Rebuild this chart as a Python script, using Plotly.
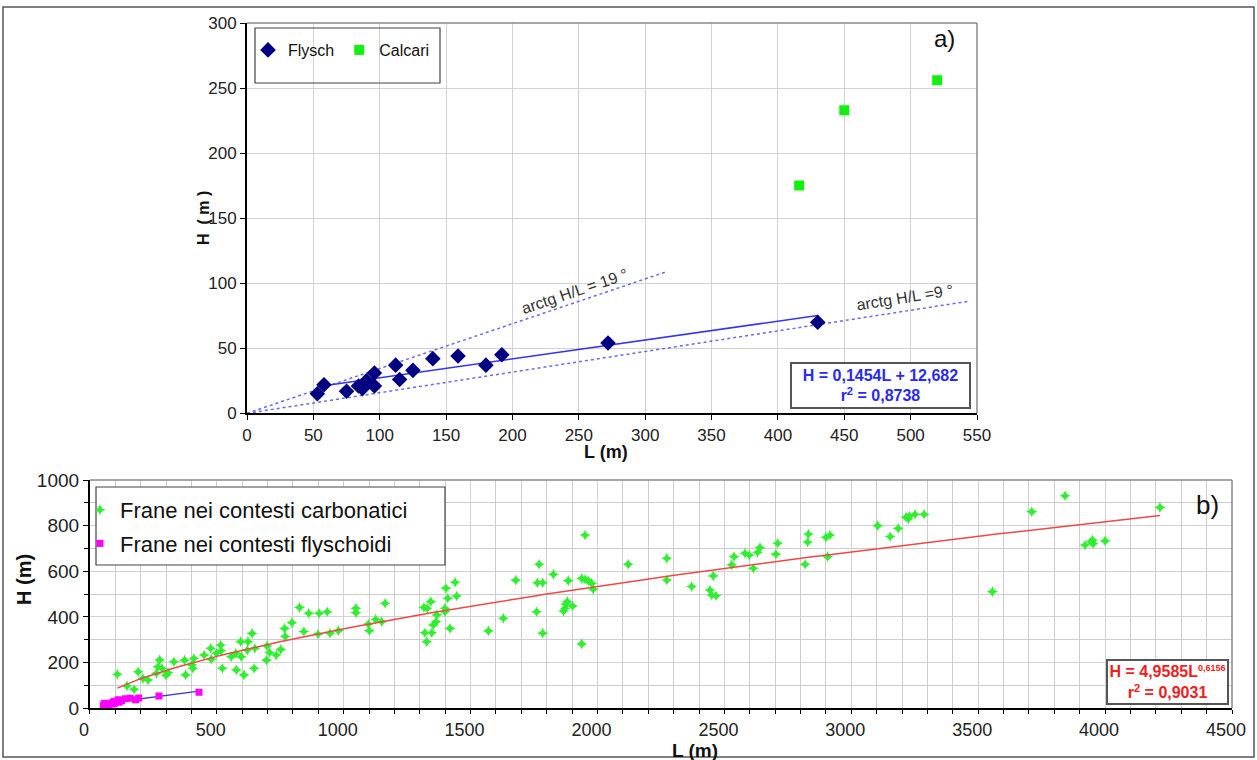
import numpy as np
import plotly.graph_objects as go

W, H = 1257, 760
FONT = "Liberation Sans, Arial, sans-serif"

# ---------------- Panel a) data ----------------
flysch_L = [53, 58, 75, 84, 87, 90, 96, 96, 112, 115, 125, 140, 159, 180, 192, 272, 430]
flysch_H = [15, 22, 17, 21, 19, 25, 31, 21, 37, 26, 33, 42, 44, 37, 45, 54, 70]
calcari_L = [416, 450, 520]
calcari_H = [175, 233, 256]
lin_fit = [0.1454, 12.682]          # slope, intercept
lin_fit_range = [58, 430]
slope_angles_deg = [19, 9]
slope_line_ends = [315, 545]

# ---------------- Panel b) data ----------------
carb_L = [108, 190, 174, 146, 209, 229, 275, 268, 262, 284, 308, 300, 331, 373, 377, 410, 406, 402,
          450, 476, 478, 498, 515, 517, 522, 557, 577, 575, 594, 596, 607, 623, 620, 639, 647, 650,
          698, 696, 708, 734, 752, 767, 770, 796, 843, 826, 862, 903, 899, 935,
          946, 979, 1048, 1048, 1097, 1101, 1126, 1150, 1163, 1316, 1329, 1343, 1320, 1327, 1347,
          1353, 1364, 1367, 1399, 1399, 1403, 1410, 1419, 1439, 1445, 1570, 1629, 1678, 1763, 1760,
          1770, 1784, 1784, 1826,
          1885, 1881, 1872, 1866, 1902, 1875, 1938, 1951, 1951, 1964, 1977, 1983, 1938, 2121, 2273,
          2273, 2371, 2443, 2450, 2467, 2456, 2529, 2538, 2581, 2598, 2614, 2631, 2640, 2703, 2710,
          2831, 2828, 2818, 2900, 2916, 2907, 3104, 3153, 3185, 3216, 3229, 3225, 3251, 3287, 3556,
          3711, 3842, 3921, 3951, 3953, 3945, 4000, 4216]
carb_H = [149, 160, 83, 98, 131, 124, 212, 182, 153, 175, 156, 145, 204, 211, 146, 219, 175, 190,
          233, 263, 215, 241, 277, 252, 175, 226, 168, 241, 292, 226, 146, 292, 255, 328, 175, 263,
          273, 211, 244, 233, 258, 350, 314, 375, 336, 442, 416, 416, 325, 423,
          329, 340, 438, 419, 369, 340, 390, 379, 460, 442, 438, 467, 331, 292, 331,
          365, 379, 409, 423, 438, 526, 482, 350, 552, 492, 339, 394, 561, 550, 423,
          631, 550, 329, 587,
          559, 467, 438, 426, 448, 456, 569, 565, 759, 558, 547, 521, 282, 631, 657,
          562, 533, 518, 496, 493, 580, 628, 664, 679, 671, 613, 683, 704, 675, 723,
          763, 728, 631, 749, 759, 664, 800, 752, 788, 837, 842, 830, 850, 850, 511,
          861, 931, 715, 737, 721, 730, 733, 880]
pow_fit = [4.9585, 0.6156]          # coefficient, exponent
pow_fit_range = [108, 4216]

x_ticks_a = list(range(0, 551, 50))
y_ticks_a = list(range(0, 301, 50))
x_ticks_b = list(range(0, 4501, 500))
y_ticks_b = list(range(0, 1001, 200))


def xp(px):
    return px / W


def yp(py):
    return 1 - py / H


fig = go.Figure()

# ---------------- Panel a) traces ----------------
for ang, end in zip(slope_angles_deg, slope_line_ends):
    s = np.tan(np.radians(ang))
    fig.add_trace(go.Scatter(x=[0, end], y=[0, s * end], mode="lines",
                             line=dict(color="#6a6ae8", width=1.5, dash="dot"),
                             showlegend=False, xaxis="x", yaxis="y", hoverinfo="skip"))
fl = np.array(lin_fit_range)
fig.add_trace(go.Scatter(x=fl, y=lin_fit[0] * fl + lin_fit[1], mode="lines",
                         line=dict(color="#3535f0", width=1.5),
                         showlegend=False, xaxis="x", yaxis="y"))
fig.add_trace(go.Scatter(x=flysch_L, y=flysch_H, mode="markers", name="Flysch",
                         marker=dict(symbol="diamond", size=12, color="#000080"),
                         xaxis="x", yaxis="y", legend="legend"))
fig.add_trace(go.Scatter(x=calcari_L, y=calcari_H, mode="markers", name="Calcari",
                         marker=dict(symbol="square", size=10, color="#12f012"),
                         xaxis="x", yaxis="y", legend="legend"))

# ---------------- Panel b) traces ----------------
fig.add_trace(go.Scatter(x=carb_L, y=carb_H, mode="markers", name="Frane nei contesti carbonatici",
                         marker=dict(symbol="star-diamond", size=8, color="#2ef02e"),
                         xaxis="x2", yaxis="y2", legend="legend2", legendgroup="g1"))
pl = np.linspace(pow_fit_range[0], pow_fit_range[1], 200)
fig.add_trace(go.Scatter(x=pl, y=pow_fit[0] * pl ** pow_fit[1], mode="lines",
                         line=dict(color="#f04848", width=1.5),
                         showlegend=False, xaxis="x2", yaxis="y2"))
fig.add_trace(go.Scatter(x=fl, y=lin_fit[0] * fl + lin_fit[1], mode="lines",
                         line=dict(color="#3a3ad8", width=1.5),
                         showlegend=False, xaxis="x2", yaxis="y2"))
fig.add_trace(go.Scatter(x=flysch_L, y=flysch_H, mode="markers", name="Frane nei contesti flyschoidi",
                         marker=dict(symbol="square", size=7, color="#ff00ff"),
                         xaxis="x2", yaxis="y2", legend="legend2", legendgroup="g2"))

axis_common = dict(showline=True, linecolor="black", linewidth=2, ticks="outside",
                   tickcolor="black", zeroline=False, showgrid=True, gridcolor="#d2d2d2",
                   gridwidth=1, fixedrange=True, automargin=False)

fig.update_layout(
    width=W, height=H, margin=dict(l=0, r=0, t=0, b=0, pad=0, autoexpand=False),
    paper_bgcolor="white", plot_bgcolor="white",
    font=dict(family=FONT, color="#222"),
    xaxis=dict(domain=[xp(247), xp(977)], range=[0, 550], tickvals=x_ticks_a, ticklen=5,
               tickfont=dict(size=17), anchor="y", **axis_common),
    yaxis=dict(domain=[yp(413.3), yp(23)], range=[0, 300], tickvals=y_ticks_a, ticklen=5,
               tickfont=dict(size=17), anchor="x", **axis_common),
    xaxis2=dict(domain=[xp(89.9), xp(1232)], range=[0, 4500], tickvals=x_ticks_b, ticklen=4,
                tickfont=dict(size=18), anchor="y2", ticklabelshift=-6,
                minor=dict(dtick=100, tick0=0, showgrid=True, gridcolor="#cdcdcd", ticks="outside",
                           ticklen=4, tickcolor="black"), **axis_common),
    yaxis2=dict(domain=[yp(708.3), yp(480)], range=[0, 1000], tickvals=y_ticks_b, ticklen=5,
                tickfont=dict(size=19), anchor="x2",
                minor=dict(dtick=100, tick0=0, showgrid=True, gridcolor="#cdcdcd", ticks="outside",
                           ticklen=4, tickcolor="black"), **axis_common),
    legend=dict(x=xp(248), y=yp(33), xanchor="left", yanchor="top", orientation="h",
                bgcolor="rgba(0,0,0,0)", borderwidth=0, font=dict(size=16, color="#111")),
    legend2=dict(x=xp(80), y=yp(489), xanchor="left", yanchor="top", orientation="v",
                 bgcolor="rgba(0,0,0,0)", borderwidth=0, tracegroupgap=2,
                 font=dict(size=22, color="#111")),
    showlegend=True,
)

shapes = []
# outer frame
shapes.append(dict(type="rect", xref="paper", yref="paper", x0=xp(3), x1=xp(1254), y0=yp(757), y1=yp(7),
                   line=dict(color="#555", width=1.5)))
# plot frames (grey top/right)
for xa, ya in [("x", "y"), ("x2", "y2")]:
    shapes.append(dict(type="line", xref=f"{xa} domain", yref=f"{ya} domain", x0=0, x1=1, y0=1, y1=1,
                       line=dict(color="#8a8a8a", width=1.5)))
    shapes.append(dict(type="line", xref=f"{xa} domain", yref=f"{ya} domain", x0=1, x1=1, y0=0, y1=1,
                       line=dict(color="#8a8a8a", width=1.5)))
# legend boxes
shapes.append(dict(type="rect", xref="paper", yref="paper", x0=xp(255), x1=xp(440), y0=yp(83), y1=yp(28),
                   line=dict(color="#444", width=1.2), fillcolor="rgba(0,0,0,0)"))
shapes.append(dict(type="rect", xref="paper", yref="paper", x0=xp(96), x1=xp(445), y0=yp(565), y1=yp(487),
                   line=dict(color="#444", width=1.2), fillcolor="white", layer="above"))
fig.update_layout(shapes=shapes)


def label(px, py, text, size, color="#111", angle=0, **kw):
    return dict(x=xp(px), y=yp(py), xref="paper", yref="paper", text=text, textangle=angle,
                xanchor="center", yanchor="middle", showarrow=False,
                font=dict(size=size, color=color, family=FONT), **kw)


ann = [
    label(203, 218, "<b>H  ( m )</b>", 16, angle=-90),
    label(606, 452, "<b>L (m)</b>", 18),
    label(24, 580, "<b>H (m)</b>", 20, angle=-90),
    label(695, 750, "<b>L (m)</b>", 19),
    label(945, 39, "a)", 24),
    label(1207, 505, "b)", 26),
    label(574, 291, "arctg H/L = 19 °", 16, color="#333", angle=-18.6),
    label(905, 297, "arctg H/L =9 °", 16, color="#333", angle=-9),
    label(880.5, 385.5,
          "<b>H = 0,1454L + 12,682<br>r<sup>2</sup> = 0,8738</b>",
          16, color="#2a2af2",
          align="center", bordercolor="#555", borderwidth=2, borderpad=0, bgcolor="white",
          width=177, height=43),
    label(1167.5, 682,
          "<b>H = 4,9585L<sup><span style='font-size:9px'>0,6156</span></sup><br>"
          "r<sup>2</sup> = 0,9031</b>",
          16, color="#f02020",
          align="center", bordercolor="#555", borderwidth=2, borderpad=0, bgcolor="white",
          width=119, height=42),
]
fig.update_layout(annotations=ann)

fig.write_html("out.html", config={"displayModeBar": False},
               post_script="document.body.style.margin='0px';")
